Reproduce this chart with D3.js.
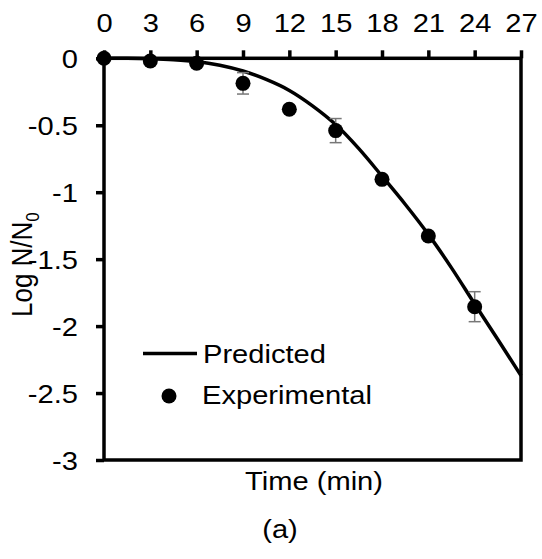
<!DOCTYPE html>
<html>
<head>
<meta charset="utf-8">
<script src="https://cdn.jsdelivr.net/npm/d3@7"></script>
<style>
	body { margin: 0; background: #fff; }
	text { font-family: Arial, "Liberation Sans", sans-serif; fill: #000; }
</style>
</head>
<body>
<div id="chart"></div>
<script>
// experimental points (min, log N/N0, error)
var expTime = [0, 3, 6, 9, 12, 15, 18, 21, 24];
var expLog = [0, -0.02, -0.037, -0.187, -0.38, -0.54, -0.904, -1.327, -1.855];
var expErr = [0, 0.01, 0.01, 0.08, 0.02, 0.09, 0.02, 0.02, 0.112];

// predicted curve
var predTime = [0, 1.5, 3, 4.5, 6, 7.5, 9, 10.5, 12, 13.5, 15, 16.5, 18, 19.5, 21, 22.5, 24, 25.5, 27];
var predLog = [0, 0, -0.003, -0.01, -0.024, -0.052, -0.095, -0.158, -0.24, -0.355, -0.495, -0.675, -0.88, -1.09, -1.315, -1.565, -1.835, -2.1, -2.37];

var xTicks = [0, 3, 6, 9, 12, 15, 18, 21, 24, 27];
var yTicks = [0, -0.5, -1, -1.5, -2, -2.5, -3];

var width = 542;
var height = 559;
var stretch = 1.12;
var fontSize = 26;

var svg = d3.select("#chart")
	.append("svg")
	.attr("width", width)
	.attr("height", height);

var x = d3.scaleLinear().domain([0, 27]).range([104, 521]);
var y = d3.scaleLinear().domain([-3, 0]).range([460, 58.3]);

// axes
var xAxis = svg.append("g")
	.attr("transform", "translate(0," + y(0) + ")")
	.call(d3.axisTop(x).tickValues(xTicks).tickSize(8).tickSizeOuter(0).tickPadding(18));
xAxis.select(".domain").remove();
xAxis.selectAll(".tick line").attr("stroke", "#000").attr("stroke-width", 3.5);
xAxis.selectAll(".tick text")
	.attr("font-size", fontSize)
	.attr("font-family", "Arial, 'Liberation Sans', sans-serif")
	.attr("transform", "scale(" + stretch + ",1)");

var yAxis = svg.append("g")
	.attr("transform", "translate(" + x(0) + ",0)")
	.call(d3.axisLeft(y).tickValues(yTicks).tickSize(8).tickSizeOuter(0)
		.tickFormat(function(d) { return String(d); }));
yAxis.select(".domain").remove();
yAxis.selectAll(".tick line").attr("stroke", "#000").attr("stroke-width", 3.5);
yAxis.selectAll(".tick text")
	.attr("font-size", fontSize)
	.attr("font-family", "Arial, 'Liberation Sans', sans-serif")
	.attr("x", -26 / stretch)
	.attr("dy", "0.36em")
	.attr("transform", "scale(" + stretch + ",1)");

// frame
svg.append("rect")
	.attr("x", x(0))
	.attr("y", y(0))
	.attr("width", x(27) - x(0))
	.attr("height", y(-3) - y(0))
	.attr("fill", "none")
	.attr("stroke", "#000")
	.attr("stroke-width", 3.5);

// predicted curve
var line = d3.line()
	.x(function(d, i) { return x(predTime[i]); })
	.y(function(d) { return y(d); })
	.curve(d3.curveCatmullRom);

svg.append("path")
	.datum(predLog)
	.attr("d", line)
	.attr("fill", "none")
	.attr("stroke", "#000")
	.attr("stroke-width", 3.5);

// error bars
var bars = svg.append("g").attr("class", "errors");
for (var i = 0; i < expTime.length; i++) {
	var cx = x(expTime[i]);
	var yHi = y(expLog[i] + expErr[i]);
	var yLo = y(expLog[i] - expErr[i]);
	bars.append("line")
		.attr("x1", cx).attr("x2", cx)
		.attr("y1", yHi).attr("y2", yLo)
		.attr("stroke", "#777").attr("stroke-width", 1.5);
	bars.append("line")
		.attr("x1", cx - 6).attr("x2", cx + 6)
		.attr("y1", yHi).attr("y2", yHi)
		.attr("stroke", "#777").attr("stroke-width", 1.5);
	bars.append("line")
		.attr("x1", cx - 6).attr("x2", cx + 6)
		.attr("y1", yLo).attr("y2", yLo)
		.attr("stroke", "#777").attr("stroke-width", 1.5);
}

// experimental points
svg.append("g")
	.selectAll("circle")
	.data(expLog)
	.enter()
	.append("circle")
	.attr("cx", function(d, i) { return x(expTime[i]); })
	.attr("cy", function(d) { return y(d); })
	.attr("r", 7.5)
	.attr("fill", "#000");

// legend
svg.append("line")
	.attr("x1", 143).attr("x2", 197)
	.attr("y1", 353.5).attr("y2", 353.5)
	.attr("stroke", "#000").attr("stroke-width", 3.5);
svg.append("text")
	.attr("transform", "translate(203,363) scale(" + stretch + ",1)")
	.attr("font-size", fontSize)
	.text("Predicted");
svg.append("circle")
	.attr("cx", 169).attr("cy", 396)
	.attr("r", 7.5)
	.attr("fill", "#000");
svg.append("text")
	.attr("transform", "translate(202,403.5) scale(" + stretch + ",1)")
	.attr("font-size", fontSize)
	.text("Experimental");

// axis titles
svg.append("text")
	.attr("transform", "translate(314,490) scale(" + stretch + ",1)")
	.attr("text-anchor", "middle")
	.attr("font-size", fontSize)
	.text("Time (min)");

var ylab = svg.append("text")
	.attr("transform", "translate(32,317) rotate(-90) scale(1," + stretch + ")")
	.attr("font-size", fontSize);
ylab.append("tspan").text("Log N/N");
ylab.append("tspan").attr("font-size", 17).attr("dy", 6).text("0");

svg.append("text")
	.attr("transform", "translate(280,538) scale(" + stretch + ",1)")
	.attr("text-anchor", "middle")
	.attr("font-size", fontSize)
	.text("(a)");
</script>
</body>
</html>
